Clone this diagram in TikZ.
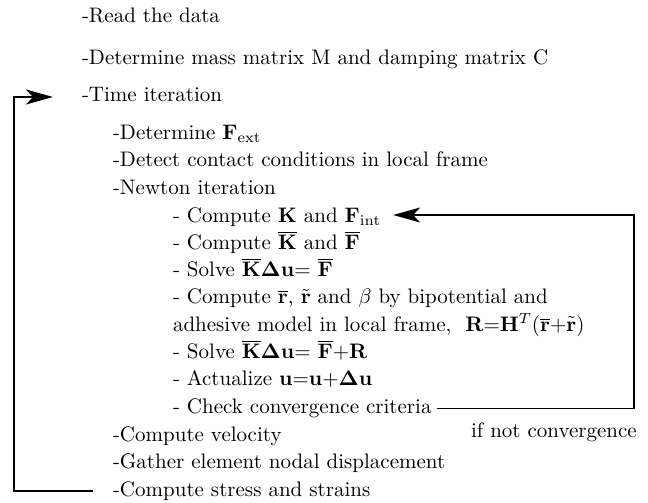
\documentclass[tikz,border=0pt]{standalone}
\usetikzlibrary{arrows.meta,calc}
\begin{document}
\begin{tikzpicture}[x=1pt,y=-1pt,
  txt/.style={anchor=base west, inner sep=0pt, outer sep=0pt, scale=2.1},
  loopline/.style={line width=1.5pt},
  tipend/.style={-{Stealth[length=27pt,width=15pt,inset=7pt]}}]
\useasboundingbox (0,0) rectangle (648,503);
% level 0
\node[txt] (read)  at (82,23)  {-Read the data};
\node[txt] (mass)  at (82,65)  {-Determine mass matrix M and damping matrix C};
\node[txt] (time)  at (82,102) {-Time iteration};
% level 1
\node[txt] (fext)   at (113,139)   {-Determine $\mathbf{F}_{\rm ext}$};
\node[txt] (detect) at (113,166.5) {-Detect contact conditions in local frame};
\node[txt] (newton) at (113,194)   {-Newton iteration};
% level 2
\node[txt] (K)      at (173,222)   {- Compute $\mathbf{K}$ and $\mathbf{F}_{\rm int}$};
\node[txt] (Kbar)   at (173,249.3) {- Compute $\overline{\mathbf{K}}$ and $\overline{\mathbf{F}}$};
\node[txt] (solve)  at (173,276.6) {- Solve $\overline{\mathbf{K}}\mathbf{\Delta u}$= $\overline{\mathbf{F}}$};
\node[txt] (rr)     at (173,303.9) {- Compute $\overline{\mathbf{r}}$, $\tilde{\mathbf{r}}$ and $\beta$ by bipotential and};
\node[txt] (adh)    at (173,331.2) {adhesive model in local frame,~ $\mathbf{R}$=$\mathbf{H}^T$($\overline{\mathbf{r}}$+$\tilde{\mathbf{r}}$)};
\node[txt] (solve2) at (173,358.5) {- Solve $\overline{\mathbf{K}}\mathbf{\Delta u}$= $\overline{\mathbf{F}}$+$\mathbf{R}$};
\node[txt] (act)    at (173,385.8) {- Actualize $\mathbf{u}$=$\mathbf{u}$+$\mathbf{\Delta u}$};
\node[txt] (check)  at (173,413.5) {- Check convergence criteria};
% level 1 again
\node[txt] (vel)    at (113,441)   {-Compute velocity};
\node[txt] (gather) at (113,468.5) {-Gather element nodal displacement};
\node[txt] (stress) at (113,496)   {-Compute stress and strains};
% label
\node[txt] (ifnot)  at (471,437)   {if not convergence};
% loops
\coordinate (Lx) at (14,0);
\coordinate (Rx) at (634,0);
\coordinate (A) at ([xshift=-20pt,yshift=5pt]stress.base west);
\coordinate (B) at ([xshift=-29pt,yshift=5pt]time.base west);
\coordinate (C) at ([xshift=5pt,yshift=5pt]check.base east);
\coordinate (D) at ([xshift=12pt,yshift=7pt]K.base east);
\draw[loopline,tipend] (A) -- (A -| Lx) -- (B -| Lx) -- (B);
\draw[loopline,tipend] (C) -- (C -| Rx) -- (D -| Rx) -- (D);
\end{tikzpicture}
\end{document}
